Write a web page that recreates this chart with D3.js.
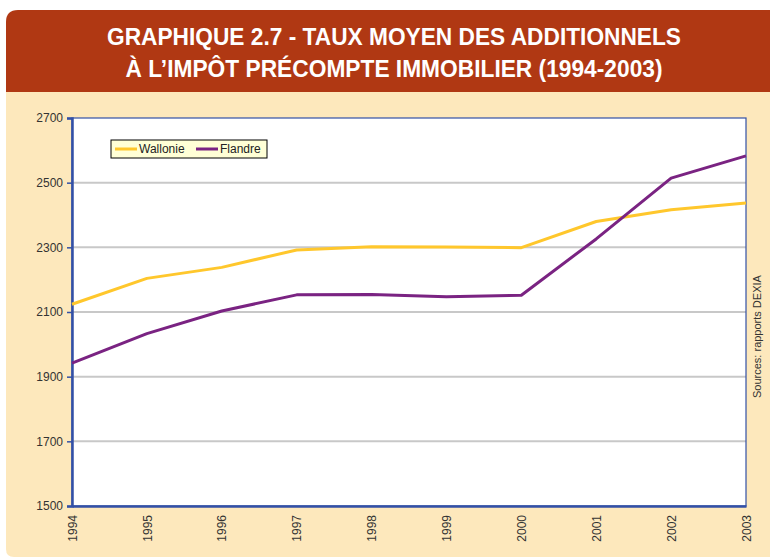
<!DOCTYPE html>
<html>
<head>
<meta charset="utf-8">
<script src="https://cdn.jsdelivr.net/npm/d3@7"></script>
<style>
  body { margin: 0; background: #fff; }
  text { font-family: "Liberation Sans", Arial, sans-serif; }
</style>
</head>
<body>
<div id="chart"></div>
<script>
(function() {

    var years = ["1994", "1995", "1996", "1997", "1998", "1999", "2000", "2001", "2002", "2003"];
    var wallonie = [2124, 2204, 2238, 2292, 2302, 2301, 2299, 2380, 2416, 2437];
    var flandre = [1942, 2033, 2103, 2153, 2154, 2147, 2152, 2326, 2514, 2583];
    var yTicks = [1500, 1700, 1900, 2100, 2300, 2500, 2700];
    var titleLines = ["GRAPHIQUE 2.7 - TAUX MOYEN DES ADDITIONNELS",
                      "À L’IMPÔT PRÉCOMPTE IMMOBILIER (1994-2003)"];

    var series = [
        { name: "Wallonie", values: wallonie, color: "#FFC72C" },
        { name: "Flandre", values: flandre, color: "#7A2382" }
    ];

    var outerWidth = 770, outerHeight = 558;
    var margins = { top: 118, right: 24, bottom: 52, left: 72 };
    var width = outerWidth - margins.left - margins.right;
    var height = outerHeight - margins.top - margins.bottom;

    var svg = d3.select("#chart")
        .append("svg")
        .attr("width", outerWidth)
        .attr("height", outerHeight);

    // page background: beige panel and title band
    svg.append("path")
        .attr("fill", "#FDE8BC")
        .attr("d", "M6,92 H770 V557 H14 Q6,557 6,549 Z");

    svg.append("path")
        .attr("fill", "#B03813")
        .attr("d", "M6,92 V22 Q6,10 18,10 H770 V92 Z");

    svg.selectAll("text.title")
        .data(titleLines)
        .enter().append("text")
        .attr("class", "title")
        .attr("x", 394)
        .attr("y", function(d, i) { return 45 + i * 32; })
        .attr("text-anchor", "middle")
        .attr("fill", "#fff")
        .attr("font-size", 23)
        .attr("font-weight", "bold")
        .attr("textLength", function(d, i) { return i === 0 ? 574 : 537; })
        .attr("lengthAdjust", "spacingAndGlyphs")
        .text(function(d) { return d; });

    var x = d3.scalePoint().domain(years).range([0, width]);
    var y = d3.scaleLinear().domain([1500, 2700]).range([height, 0]);

    var g = svg.append("g")
        .attr("transform", "translate(" + margins.left + "," + margins.top + ")");

    g.append("rect")
        .attr("width", width)
        .attr("height", height)
        .attr("fill", "#fff");

    // gridlines
    g.selectAll("line.grid")
        .data(yTicks.slice(1, -1))
        .enter().append("line")
        .attr("class", "grid")
        .attr("x1", 0).attr("x2", width)
        .attr("y1", y).attr("y2", y)
        .attr("stroke", "#C8C8C8")
        .attr("stroke-width", 2);

    // plot frame
    g.append("rect")
        .attr("width", width)
        .attr("height", height)
        .attr("fill", "none")
        .attr("stroke", "#3350A6")
        .attr("stroke-width", 1.2);

    var yAxis = g.append("g")
        .call(d3.axisLeft(y).tickValues(yTicks).tickFormat(d3.format("d")).tickSize(5).tickPadding(4));
    yAxis.select(".domain").attr("stroke", "#3350A6").attr("stroke-width", 2.5);
    yAxis.selectAll(".tick line").attr("stroke", "#3350A6").attr("stroke-width", 1.5);
    yAxis.selectAll(".tick text")
        .attr("font-size", 12)
        .attr("fill", "#333")
        .attr("font-family", "Liberation Sans, Arial, sans-serif");

    var xAxis = g.append("g")
        .attr("transform", "translate(0," + height + ")")
        .call(d3.axisBottom(x).tickSize(0).tickPadding(0));
    xAxis.select(".domain").attr("stroke", "#3350A6").attr("stroke-width", 2.5);
    xAxis.selectAll(".tick text")
        .attr("font-size", 12)
        .attr("fill", "#333")
        .attr("font-family", "Liberation Sans, Arial, sans-serif")
        .attr("text-anchor", "end")
        .attr("transform", "rotate(-90)")
        .attr("x", -9)
        .attr("y", 0)
        .attr("dy", "0.35em");

    var line = d3.line()
        .x(function(d, i) { return x(years[i]); })
        .y(function(d) { return y(d); });

    g.selectAll("path.series")
        .data(series)
        .enter().append("path")
        .attr("class", "series")
        .attr("fill", "none")
        .attr("stroke", function(d) { return d.color; })
        .attr("stroke-width", 3)
        .attr("stroke-linejoin", "round")
        .attr("d", function(d) { return line(d.values); });

    //legend
    var legend = svg.append("g").attr("transform", "translate(111,140)");
    legend.append("rect")
        .attr("width", 156)
        .attr("height", 18)
        .attr("fill", "#FFFFD6")
        .attr("stroke", "#000")
        .attr("stroke-width", 1);

    var item = legend.selectAll("g.item")
        .data(series)
        .enter().append("g")
        .attr("class", "item")
        .attr("transform", function(d, i) { return "translate(" + (4 + i * 81) + ",9)"; });
    item.append("line")
        .attr("x1", 0).attr("x2", 22)
        .attr("stroke", function(d) { return d.color; })
        .attr("stroke-width", 3);
    item.append("text")
        .attr("x", 24)
        .attr("dy", "0.36em")
        .attr("font-size", 12)
        .attr("fill", "#222")
        .text(function(d) { return d.name; });

    // source note
    svg.append("text")
        .attr("transform", "translate(761,398) rotate(-90)")
        .attr("font-size", 11)
        .attr("fill", "#333")
        .text("Sources: rapports DEXIA");

})();
</script>
</body>
</html>
